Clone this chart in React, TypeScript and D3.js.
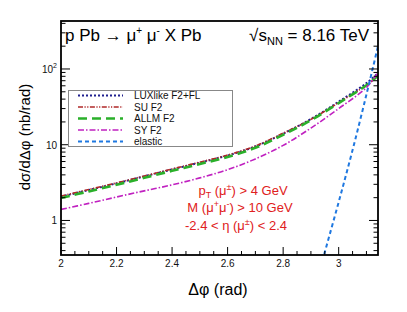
import React from "react";
import * as d3 from "d3";

// values
const dphi = [2.0, 2.1, 2.2, 2.3, 2.4, 2.5, 2.6, 2.7, 2.8, 2.9, 3.0, 3.1, 3.1416];
const luxF2FL = [2.06, 2.52, 3.09, 3.82, 4.72, 5.8, 7.2, 9.5, 14.0, 21.8, 37, 65, 88];
const suF2 = [2.1, 2.56, 3.13, 3.86, 4.78, 5.88, 7.3, 9.6, 14.2, 21.6, 36, 61, 80];
const allmF2 = [1.98, 2.42, 2.96, 3.66, 4.52, 5.56, 6.9, 9.1, 13.5, 21, 35.5, 61, 82];
const syF2 = [1.4, 1.68, 2.04, 2.46, 2.95, 3.65, 4.68, 6.5, 9.8, 16.6, 30, 57, 90];
const elasticX = [2.948, 3.0, 3.05, 3.1, 3.1416];
const elasticY = [0.36, 1.75, 8.5, 46, 200];

const xTicks = [2, 2.2, 2.4, 2.6, 2.8, 3];
const legendLabels = ["LUXlike F2+FL", "SU F2", "ALLM F2", "SY F2", "elastic"];

const W = 407;
const H = 312;
const m = { left: 61, right: 29, top: 21, bottom: 57 };

export default function App() {
  const x = d3.scaleLinear().domain([2, Math.PI]).range([m.left, W - m.right]);
  const y = d3.scaleLog().domain([0.35, 430]).range([H - m.bottom, m.top]);

  const line = d3
    .line<[number, number]>()
    .x((d) => x(d[0]))
    .y((d) => y(d[1]))
    .curve(d3.curveCatmullRom.alpha(0.5));

  const series = [
    { name: legendLabels[0], xs: dphi, ys: luxF2FL, color: "#1f1f8f", dash: "2,2", w: 2 },
    { name: legendLabels[1], xs: dphi, ys: suF2, color: "#b02828", dash: "5,1.5,1.2,1.5,1.2,1.5", w: 1.6 },
    { name: legendLabels[2], xs: dphi, ys: allmF2, color: "#2ab02a", dash: "9,5", w: 2.6 },
    { name: legendLabels[3], xs: dphi, ys: syF2, color: "#c021c0", dash: "6,2,1.5,2", w: 1.6 },
    { name: legendLabels[4], xs: elasticX, ys: elasticY, color: "#1f78e0", dash: "4,3", w: 2 },
  ];

  const x0 = m.left;
  const x1 = W - m.right;
  const y0 = H - m.bottom;
  const y1 = m.top;

  // minor x ticks every 0.05
  const xMinor = d3.range(2, 3.15, 0.05).filter((v) => v <= Math.PI);
  // log ticks
  const yMinor: number[] = [];
  for (const dec of [0.1, 1, 10, 100]) {
    for (let k = 1; k < 10; k++) {
      const v = dec * k;
      if (v >= 0.35 && v <= 430) yMinor.push(v);
    }
  }
  const yMajor = [1, 10, 100];

  const font = "Liberation Sans, Arial, sans-serif";

  return (
    <svg width={W} height={H} style={{ position: "absolute", left: 0, top: 0 }} fontFamily={font}>
      <rect width={W} height={H} fill="#fff" />
      <defs>
        <clipPath id="plot">
          <rect x={x0} y={y1} width={x1 - x0} height={y0 - y1} />
        </clipPath>
      </defs>

      <g clipPath="url(#plot)">
        {series.map((s) => (
          <path
            key={s.name}
            d={line(s.xs.map((v, i) => [v, s.ys[i]] as [number, number])) || ""}
            fill="none"
            stroke={s.color}
            strokeWidth={s.w}
            strokeDasharray={s.dash}
          />
        ))}
      </g>

      {/* ticks */}
      <g stroke="#000" strokeWidth={1}>
        {xMinor.map((v) => {
          const major = xTicks.some((t) => Math.abs(t - v) < 1e-6);
          const len = major ? 8 : 4;
          return <line key={"xm" + v} x1={x(v)} x2={x(v)} y1={y0} y2={y0 - len} />;
        })}
        {yMinor.map((v) => {
          const major = yMajor.some((t) => Math.abs(t - v) < 1e-9);
          const len = major ? 9 : 4.5;
          return (
            <g key={"ym" + v}>
              <line x1={x0} x2={x0 + len} y1={y(v)} y2={y(v)} />
              <line x1={x1} x2={x1 - len} y1={y(v)} y2={y(v)} />
            </g>
          );
        })}
      </g>

      <rect x={x0} y={y1} width={x1 - x0} height={y0 - y1} fill="none" stroke="#000" strokeWidth={1.8} />

      {/* tick labels */}
      <g fontSize={10} fill="#111">
        {xTicks.map((t) => (
          <text key={"xl" + t} x={x(t)} y={y0 + 12} textAnchor="middle">
            {String(t)}
          </text>
        ))}
        <text x={x0 - 4} y={y(1) + 4} textAnchor="end">1</text>
        <text x={x0 - 4} y={y(10) + 4} textAnchor="end">10</text>
        <text x={x0 - 8} y={y(100) + 4} textAnchor="end">10</text>
        <text x={x0 - 8} y={y(100) - 1} fontSize={7}>2</text>
      </g>

      {/* axis titles */}
      <text x={218} y={295} textAnchor="middle" fontSize={16}>Δφ (rad)</text>
      <text transform={`translate(30,137) rotate(-90)`} textAnchor="middle" fontSize={15}>
        dσ/dΔφ (nb/rad)
      </text>

      {/* header */}
      <text x={65} y={41} fontSize={17}>
        p Pb → μ<tspan fontSize={10} dy={-7}>+</tspan>
        <tspan dy={7}> μ</tspan>
        <tspan fontSize={10} dy={-7}>-</tspan>
        <tspan dy={7}> X Pb</tspan>
      </text>
      <text x={369} y={41} fontSize={17} textAnchor="end">
        √s<tspan fontSize={11} dy={4}>NN</tspan>
        <tspan dy={-4}> = 8.16 TeV</tspan>
      </text>

      {/* legend */}
      <rect x={68.5} y={90.5} width={164} height={56} fill="#fff" stroke="#888" strokeWidth={1} />
      {series.map((s, i) => {
        const ly = 95.5 + i * 11.5;
        return (
          <g key={"lg" + s.name}>
            <line x1={78} x2={123} y1={ly} y2={ly} stroke={s.color} strokeWidth={s.w} strokeDasharray={s.dash} />
            <text x={134} y={ly + 3.5} fontSize={10} fill="#111">{s.name}</text>
          </g>
        );
      })}

      {/* cuts annotation */}
      <g fill="#e02020" fontSize={13} textAnchor="middle">
        <text x={243} y={195}>
          p<tspan fontSize={9} dy={3}>T</tspan>
          <tspan dy={-3}> (μ</tspan>
          <tspan fontSize={9} dy={-5}>±</tspan>
          <tspan dy={5}>) &gt; 4 GeV</tspan>
        </text>
        <text x={240} y={212}>
          M (μ<tspan fontSize={9} dy={-5}>+</tspan>
          <tspan dy={5}>μ</tspan>
          <tspan fontSize={9} dy={-5}>-</tspan>
          <tspan dy={5}>) &gt; 10 GeV</tspan>
        </text>
        <text x={236} y={230}>
          -2.4 &lt; η (μ<tspan fontSize={9} dy={-5}>±</tspan>
          <tspan dy={5}>) &lt; 2.4</tspan>
        </text>
      </g>
    </svg>
  );
}
